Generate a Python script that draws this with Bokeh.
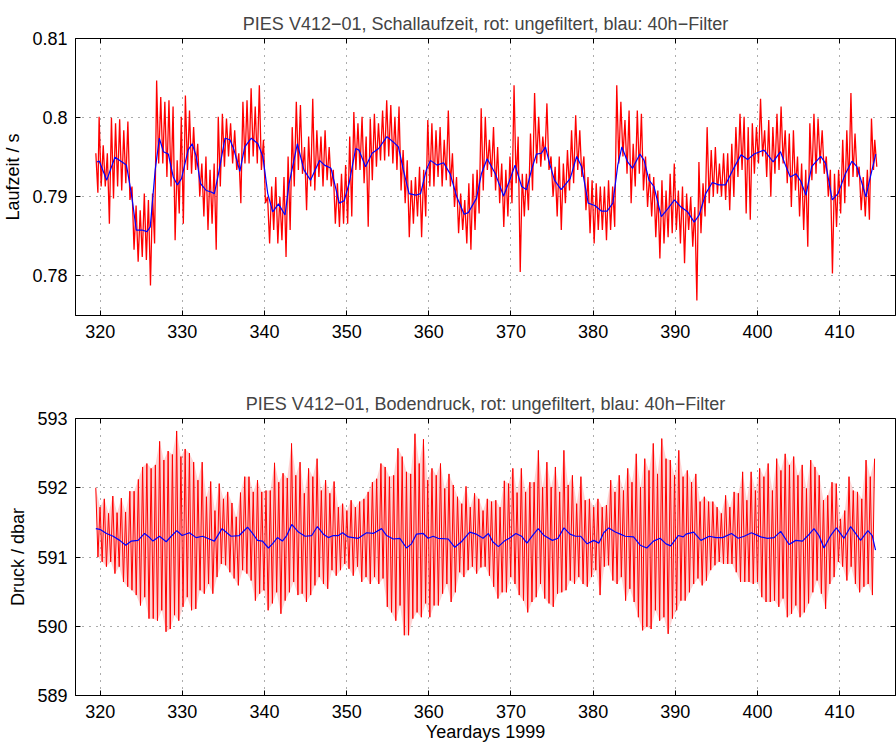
import numpy as np
from bokeh.plotting import figure
from bokeh.layouts import column
from bokeh.models import FixedTicker, CustomJSTickFormatter, LinearAxis
from bokeh.embed import file_html
from bokeh.resources import INLINE

FONT = "Liberation Sans"

# ---------------- top panel: travel time (Laufzeit) ----------------
# unfiltered (red): upper / lower spike extremes read per half day, starting 320.0
top_first_day, top_last_day = 319.6, 414.4
top_first_hi, top_first_lo = 0.7955, 0.7905
top_last_hi, top_last_lo = 0.7972, 0.7938
top_hi = [
    0.8001, 0.7965, 0.7955, 0.8000, 0.7993, 0.7998, 0.7984, 0.7995, 0.7913, 0.7889,
    0.7883, 0.7904, 0.7896, 0.7904, 0.8047, 0.8026, 0.8020, 0.8022, 0.8014, 0.7946,
    0.8001, 0.8028, 0.8009, 0.7988, 0.7967, 0.7942, 0.7951, 0.7934, 0.7942, 0.8001,
    0.8005, 0.7999, 0.7993, 0.7984, 0.7955, 0.8020, 0.8022, 0.8037, 0.8014, 0.8041,
    0.7972, 0.7900, 0.7913, 0.7925, 0.7900, 0.7925, 0.7951, 0.7988, 0.8020, 0.8016,
    0.7963, 0.7976, 0.8024, 0.7984, 0.7976, 0.7984, 0.7963, 0.7934, 0.7917, 0.7929,
    0.7940, 0.7976, 0.8007, 0.7993, 0.8001, 0.7976, 0.7999, 0.8005, 0.7993, 0.8009,
    0.8022, 0.8016, 0.8001, 0.8014, 0.7959, 0.7946, 0.7921, 0.7925, 0.7938, 0.7934,
    0.7997, 0.7993, 0.7984, 0.7988, 0.7972, 0.8009, 0.7955, 0.7925, 0.7904, 0.7896,
    0.7917, 0.7929, 0.7934, 0.8012, 0.8001, 0.7972, 0.7988, 0.7963, 0.7942, 0.7934,
    0.7951, 0.8041, 0.7976, 0.7929, 0.7929, 0.7980, 0.8031, 0.8001, 0.7976, 0.8018,
    0.7951, 0.7938, 0.7951, 0.7942, 0.7959, 0.7984, 0.8003, 0.7984, 0.7951, 0.7925,
    0.7921, 0.7917, 0.7913, 0.7913, 0.7921, 0.7913, 0.8041, 0.8020, 0.7997, 0.8009,
    0.7967, 0.8009, 0.8005, 0.7951, 0.7929, 0.7925, 0.7908, 0.7921, 0.7908, 0.7929,
    0.7942, 0.7908, 0.7913, 0.7904, 0.7900, 0.7887, 0.7944, 0.7917, 0.7988, 0.7959,
    0.7963, 0.7942, 0.7955, 0.7955, 0.7967, 0.7988, 0.8005, 0.8001, 0.7988, 0.7993,
    0.7988, 0.8024, 0.7984, 0.7997, 0.7988, 0.8005, 0.8014, 0.7984, 0.7980, 0.7984,
    0.7951, 0.7942, 0.7934, 0.7993, 0.8005, 0.7999, 0.7984, 0.7951, 0.7934, 0.7929,
    0.7934, 0.7972, 0.7984, 0.8031, 0.7980, 0.7938, 0.7925, 0.7934, 0.7999,
]
top_lo = [
    0.7913, 0.7913, 0.7866, 0.7898, 0.7913, 0.7908, 0.7917, 0.7896, 0.7833, 0.7818,
    0.7824, 0.7820, 0.7788, 0.7841, 0.7942, 0.7942, 0.7925, 0.7913, 0.7845, 0.7879,
    0.7866, 0.7934, 0.7929, 0.7934, 0.7900, 0.7875, 0.7858, 0.7866, 0.7833, 0.7913,
    0.7938, 0.7951, 0.7942, 0.7934, 0.7892, 0.7942, 0.7942, 0.7951, 0.7942, 0.7934,
    0.7892, 0.7841, 0.7858, 0.7841, 0.7845, 0.7824, 0.7858, 0.7913, 0.7934, 0.7929,
    0.7883, 0.7913, 0.7908, 0.7925, 0.7913, 0.7921, 0.7913, 0.7866, 0.7862, 0.7866,
    0.7866, 0.7875, 0.7934, 0.7934, 0.7917, 0.7862, 0.7921, 0.7938, 0.7946, 0.7946,
    0.7951, 0.7942, 0.7934, 0.7908, 0.7892, 0.7849, 0.7866, 0.7875, 0.7849, 0.7875,
    0.7913, 0.7913, 0.7925, 0.7913, 0.7921, 0.7913, 0.7887, 0.7854, 0.7858, 0.7841,
    0.7833, 0.7858, 0.7879, 0.7908, 0.7934, 0.7925, 0.7908, 0.7892, 0.7862, 0.7875,
    0.7892, 0.7917, 0.7805, 0.7875, 0.7883, 0.7908, 0.7942, 0.7938, 0.7946, 0.7934,
    0.7900, 0.7875, 0.7858, 0.7892, 0.7908, 0.7917, 0.7934, 0.7925, 0.7883, 0.7854,
    0.7841, 0.7858, 0.7858, 0.7845, 0.7858, 0.7862, 0.7942, 0.7951, 0.7929, 0.7892,
    0.7913, 0.7929, 0.7908, 0.7887, 0.7875, 0.7849, 0.7822, 0.7841, 0.7849, 0.7854,
    0.7858, 0.7841, 0.7816, 0.7858, 0.7837, 0.7769, 0.7854, 0.7875, 0.7892, 0.7900,
    0.7904, 0.7900, 0.7896, 0.7883, 0.7900, 0.7925, 0.7934, 0.7879, 0.7871, 0.7929,
    0.7942, 0.7951, 0.7925, 0.7900, 0.7929, 0.7934, 0.7942, 0.7917, 0.7887, 0.7908,
    0.7875, 0.7858, 0.7837, 0.7921, 0.7929, 0.7942, 0.7929, 0.7900, 0.7803, 0.7862,
    0.7879, 0.7892, 0.7913, 0.7925, 0.7925, 0.7883, 0.7875, 0.7871, 0.7934,
]
# 40h filtered (blue)
top_blue_day = [
    319.6, 319.9, 320.8, 321.8, 322.8, 323.2, 323.8, 324.4, 325.1, 325.7, 326.1, 326.7,
    327.2, 327.7, 328.3, 328.9, 329.4, 329.9, 330.7, 331.2, 331.7, 332.2, 332.9, 333.5,
    333.9, 334.4, 335.2, 335.8, 336.3, 337.0, 337.6, 338.4, 339.2, 339.8, 340.4, 341.0,
    341.7, 342.5, 343.0, 344.0, 344.8, 345.6, 346.7, 347.3, 348.1, 349.1, 349.7, 350.3,
    351.1, 351.5, 352.3, 353.1, 353.9, 354.9, 355.7, 356.3, 356.9, 357.6, 358.4, 359.0,
    359.7, 360.2, 361.0, 361.8, 362.6, 363.4, 364.3, 364.8, 365.8, 366.4, 367.1, 368.1,
    369.1, 369.7, 370.5, 371.3, 371.9, 372.5, 373.1, 373.7, 374.2, 374.7, 375.3, 376.1,
    377.2, 378.0, 378.6, 379.4, 380.2, 381.0, 381.7, 382.4, 383.0, 383.5, 384.2, 384.8,
    385.7, 386.2, 386.8, 387.4, 388.3, 389.1, 389.9, 390.7, 391.5, 392.3, 392.9, 393.7,
    394.5, 395.3, 396.1, 397.0, 398.0, 398.8, 399.6, 400.8, 401.4, 401.9, 402.8, 403.4,
    404.0, 404.7, 405.3, 405.9, 406.6, 407.7, 408.3, 409.1, 409.8, 410.7, 411.5, 412.1,
    412.6, 413.2, 413.6, 414.4,
]
top_blue_val = [
    0.7944, 0.7945, 0.7921, 0.7950, 0.7943, 0.7940, 0.7904, 0.7858, 0.7858, 0.7856, 0.7862, 0.7934,
    0.7974, 0.7957, 0.7954, 0.7925, 0.7915, 0.7923, 0.7959, 0.7967, 0.7951, 0.7917, 0.7908, 0.7906,
    0.7904, 0.7929, 0.7974, 0.7972, 0.7959, 0.7932, 0.7963, 0.7974, 0.7967, 0.7951, 0.7904, 0.7881,
    0.7891, 0.7877, 0.7917, 0.7967, 0.7934, 0.7921, 0.7946, 0.7940, 0.7936, 0.7892, 0.7895, 0.7917,
    0.7961, 0.7959, 0.7938, 0.7955, 0.7961, 0.7976, 0.7969, 0.7963, 0.7934, 0.7904, 0.7902, 0.7904,
    0.7934, 0.7946, 0.7940, 0.7943, 0.7929, 0.7900, 0.7878, 0.7880, 0.7898, 0.7929, 0.7948, 0.7929,
    0.7901, 0.7917, 0.7940, 0.7913, 0.7909, 0.7934, 0.7954, 0.7955, 0.7963, 0.7942, 0.7921, 0.7909,
    0.7923, 0.7951, 0.7938, 0.7892, 0.7889, 0.7882, 0.7882, 0.7892, 0.7940, 0.7963, 0.7944, 0.7936,
    0.7954, 0.7946, 0.7921, 0.7913, 0.7875, 0.7885, 0.7896, 0.7887, 0.7881, 0.7868, 0.7877, 0.7904,
    0.7918, 0.7915, 0.7915, 0.7934, 0.7953, 0.7947, 0.7954, 0.7959, 0.7951, 0.7944, 0.7957, 0.7940,
    0.7925, 0.7929, 0.7919, 0.7902, 0.7938, 0.7951, 0.7942, 0.7896, 0.7904, 0.7929, 0.7945, 0.7938,
    0.7921, 0.7900, 0.7919, 0.7954,
]

# ---------------- bottom panel: bottom pressure (Bodendruck) ----------------
# unfiltered (red): tidal highs and lows, one per semidiurnal cycle
tide_first_day, tide_last_day = 319.47, 414.25
tide_high = [
    592.00, 591.72, 591.84, 591.63, 591.88, 591.64, 591.85, 591.65, 591.95, 591.95,
    592.12, 592.30, 592.35, 592.28, 592.33, 592.67, 592.40, 592.53, 592.48, 592.82,
    592.45, 592.56, 592.50, 592.37, 592.11, 592.37, 591.87, 592.09, 591.67, 592.06,
    591.84, 591.94, 591.78, 591.58, 591.93, 592.16, 592.16, 591.94, 592.11, 591.94,
    591.96, 591.96, 592.36, 592.08, 592.21, 592.14,
    592.64, 592.18, 592.37, 591.92, 592.28, 592.16, 592.42, 591.96, 592.11, 591.92,
    592.09, 591.72, 591.77, 591.67, 591.82, 591.72, 591.80, 591.84, 591.94, 592.08,
    592.13, 592.35, 592.30, 592.16, 592.18, 592.57, 592.45, 592.23, 592.20, 592.78,
    592.35, 592.70, 592.11, 592.28, 592.18, 592.35, 591.99, 592.20, 592.04, 591.87,
    591.77, 592.02, 591.72, 591.92, 591.84, 591.67,
    591.84, 591.80, 591.82, 591.72, 592.10, 592.06, 592.28, 591.93, 592.28, 591.94,
    592.08, 592.08, 592.54, 592.01, 592.37, 592.01, 592.30, 591.94, 592.54, 592.04,
    592.18, 591.77, 592.16, 591.82, 591.84, 591.72, 591.84, 591.72, 591.75, 592.11,
    591.94, 592.18, 591.96, 592.28, 592.08, 592.49, 592.01, 592.42, 592.25, 592.64,
    592.20, 592.71, 592.42, 592.40, 592.18, 592.54, 592.16,
    592.25, 592.08, 592.20, 591.80, 591.87, 591.80, 591.80, 591.72, 591.63, 591.89,
    591.72, 591.94, 591.92, 592.23, 591.82, 592.23, 591.96, 592.28, 592.16, 592.35,
    591.96, 592.42, 592.25, 592.49, 592.33, 592.45, 592.18, 592.33, 591.99, 592.40,
    592.30, 592.18, 591.82, 591.89, 592.08, 592.06, 591.55, 591.67, 592.16, 591.96,
    591.94, 591.84, 592.40, 592.16, 592.42,
]
tide_low = [
    591.00, 590.93, 590.86, 590.93, 590.76, 590.86, 590.64, 590.57, 590.52, 590.45,
    590.30, 590.42, 590.11, 590.11, 590.08, 590.23, 589.92, 589.96, 590.16, 590.08,
    590.28, 590.42, 590.23, 590.25, 590.52, 590.47, 590.61, 590.47, 590.71, 590.90,
    590.88, 590.78, 590.69, 590.59, 590.81, 590.76, 590.66, 590.37, 590.47, 590.52,
    590.23, 590.33, 590.49, 590.18, 590.37,
    590.49, 590.64, 590.45, 590.47, 590.35, 590.45, 590.59, 590.71, 590.61, 590.54,
    590.81, 590.73, 590.81, 590.90, 590.83, 590.73, 590.86, 590.64, 590.71, 590.61,
    590.71, 590.61, 590.69, 590.28, 590.20, 590.08, 590.30, 589.87, 589.87, 590.11,
    590.20, 590.13, 590.33, 590.13, 590.30, 590.30, 590.47, 590.61, 590.35, 590.49,
    590.78, 590.71, 590.81, 590.86, 590.76, 590.85,
    590.86, 590.73, 590.57, 590.40, 590.49, 590.49, 590.71, 590.61, 590.45, 590.37,
    590.20, 590.35, 590.42, 590.61, 590.40, 590.33, 590.28, 590.47, 590.49, 590.52,
    590.66, 590.61, 590.71, 590.61, 590.57, 590.71, 590.81, 590.45, 590.86, 590.88,
    590.66, 590.61, 590.71, 590.37, 590.54, 590.35, 590.13, 589.94, 589.99, 589.96,
    590.23, 590.08, 590.13, 589.89, 590.11, 590.23, 590.37,
    590.37, 590.49, 590.61, 590.69, 590.59, 590.66, 590.81, 590.88, 590.93, 590.90,
    590.90, 590.90, 590.78, 590.64, 590.64, 590.64, 590.61, 590.64, 590.42, 590.35,
    590.35, 590.37, 590.28, 590.40, 590.13, 590.18, 590.30, 590.13, 590.20, 590.33,
    590.49, 590.66, 590.47, 590.25, 590.61, 590.71, 590.93, 590.86, 590.66, 590.86,
    590.61, 590.49, 590.57, 590.61, 590.45,
]
# 40h filtered (blue)
bot_blue_day = [
    319.47, 319.96, 320.77, 321.58, 322.38, 323.11, 323.80, 324.61, 325.41, 325.94, 326.42,
    327.23, 328.04, 328.65, 329.33, 329.98, 330.87, 331.68, 332.48, 333.29, 333.90, 334.83,
    335.31, 335.92, 336.93, 337.94, 338.55, 339.15, 339.76, 340.48, 340.97, 341.58, 342.18,
    342.71, 343.32, 344.13, 344.94, 345.75, 346.44, 347.17, 347.77, 348.38, 348.99, 349.51,
    350.20, 351.42, 352.43, 353.24, 354.25, 354.86, 355.67, 356.48, 357.29, 357.89, 358.50,
    359.31, 359.92, 360.53, 361.13, 362.35, 363.16, 363.97, 364.98, 365.79, 366.60,
    367.26, 367.78, 368.47, 369.19, 369.80, 370.60, 371.29, 371.94, 372.62, 373.31, 374.03,
    375.04, 375.73, 376.45, 377.18, 377.86, 378.47, 379.27, 380.08, 380.69, 381.29, 381.90,
    382.70, 383.31, 383.91, 384.92, 385.73, 386.53, 387.34, 388.15, 388.87, 389.44, 390.36,
    390.97, 391.30, 392.23, 393.12, 394.13, 394.94, 395.75, 396.84, 397.65, 398.38, 399.27,
    400.40, 401.21, 402.02, 402.83, 403.85, 404.66, 405.47, 406.15, 406.88, 407.49, 408.10,
    408.91, 409.60, 410.53, 411.34, 411.94, 412.55, 413.44, 413.97, 414.37,
]
bot_blue_val = [
    591.41, 591.40, 591.34, 591.30, 591.24, 591.17, 591.23, 591.24, 591.34, 591.29, 591.23,
    591.30, 591.22, 591.30, 591.38, 591.31, 591.35, 591.28, 591.30, 591.26, 591.23, 591.41,
    591.36, 591.30, 591.31, 591.43, 591.34, 591.24, 591.23, 591.13, 591.19, 591.28, 591.23,
    591.31, 591.47, 591.36, 591.30, 591.31, 591.44, 591.33, 591.28, 591.31, 591.31, 591.35,
    591.29, 591.27, 591.35, 591.34, 591.41, 591.31, 591.26, 591.27, 591.13, 591.19, 591.33,
    591.34, 591.27, 591.30, 591.27, 591.26, 591.14, 591.22, 591.36, 591.33, 591.27,
    591.34, 591.22, 591.15, 591.23, 591.27, 591.34, 591.30, 591.20, 591.31, 591.41, 591.31,
    591.24, 591.27, 591.42, 591.33, 591.30, 591.30, 591.19, 591.24, 591.20, 591.35, 591.42,
    591.36, 591.33, 591.30, 591.29, 591.17, 591.13, 591.23, 591.27, 591.19, 591.16, 591.31,
    591.29, 591.33, 591.36, 591.24, 591.30, 591.28, 591.28, 591.34, 591.27, 591.30, 591.35,
    591.29, 591.27, 591.28, 591.37, 591.18, 591.24, 591.23, 591.31, 591.41, 591.31, 591.13,
    591.31, 591.42, 591.27, 591.44, 591.34, 591.24, 591.38, 591.31, 591.10,
]

x_ticks = [320, 330, 340, 350, 360, 370, 380, 390, 400, 410]
top_y_ticks = [0.78, 0.79, 0.80, 0.81]
bot_y_ticks = [589, 590, 591, 592, 593]

# ---------------- build zigzag sequences from the read extremes ----------------
hi_all = [top_first_hi] + top_hi + [top_last_hi]
lo_all = [top_first_lo] + top_lo + [top_last_lo]
day_all = [top_first_day] + list(320.0 + 0.5 * np.arange(len(top_hi))) + [top_last_day]
top_red_x, top_red_y = [], []
for d, h, l in zip(day_all, hi_all, lo_all):
    top_red_x += [d - 0.125, d + 0.125]
    top_red_y += [h, l]

peak_days = list(np.linspace(tide_first_day, tide_last_day, len(tide_high)))
half = (peak_days[1] - peak_days[0]) / 2.0
trough_days = [peak_days[i] + half for i in range(len(tide_low))]
bot_red_x, bot_red_y = [], []
for i, h in enumerate(tide_high):
    bot_red_x.append(peak_days[i])
    bot_red_y.append(h)
    if i < len(tide_low):
        bot_red_x.append(trough_days[i])
        bot_red_y.append(tide_low[i])

fmt = CustomJSTickFormatter(code="return Number(tick.toFixed(3)).toString();")


def style(p, yticks, ylabel, xlabel=None):
    p.title.text_font = FONT
    p.title.text_font_size = "18px"
    p.title.text_font_style = "normal"
    p.title.align = "center"
    p.title.offset = 0
    p.title.standoff = 10
    p.outline_line_color = "black"
    p.outline_line_width = 1
    p.outline_line_alpha = 1
    p.background_fill_color = "white"
    p.border_fill_color = "white"
    for ax in (p.xaxis[0], p.yaxis[0]):
        ax.major_tick_in = 5
        ax.major_tick_out = 0
        ax.minor_tick_line_color = None
        ax.axis_line_color = "black"
        ax.major_tick_line_color = "black"
        ax.major_label_text_font = FONT
        ax.major_label_text_font_size = "18px"
        ax.major_label_text_color = "black"
        ax.axis_label_text_font = FONT
        ax.axis_label_text_font_size = "18px"
        ax.axis_label_text_font_style = "normal"
        ax.axis_label_text_color = "black"
        ax.formatter = fmt
    p.xaxis[0].ticker = FixedTicker(ticks=x_ticks)
    p.yaxis[0].ticker = FixedTicker(ticks=yticks)
    p.xaxis[0].major_label_standoff = 9
    p.yaxis[0].major_label_standoff = 8
    p.yaxis[0].axis_label = ylabel
    p.yaxis[0].axis_label_standoff = 6
    if xlabel:
        p.xaxis[0].axis_label = xlabel
        p.xaxis[0].axis_label_standoff = 1
    # box ticks on top and right (labels not painted)
    for loc, tick in (("above", x_ticks), ("right", yticks)):
        ax = LinearAxis(ticker=FixedTicker(ticks=tick))
        ax.major_tick_in = 5
        ax.major_tick_out = 0
        ax.minor_tick_line_color = None
        ax.axis_line_color = None
        ax.major_label_text_font_size = "1px"
        ax.major_label_text_color = None
        ax.major_label_standoff = 0
        p.add_layout(ax, loc)
    for g, tick in ((p.xgrid[0], x_ticks), (p.ygrid[0], yticks)):
        g.ticker = FixedTicker(ticks=tick)
        g.grid_line_color = "#222222"
        g.grid_line_alpha = 0.75
        g.grid_line_dash = "1 6"
        g.grid_line_width = 1


p1 = figure(width=896, height=380, x_range=(317, 416.8), y_range=(0.775, 0.81),
            output_backend="svg", toolbar_location=None,
            title="PIES V412\u221201, Schallaufzeit, rot: ungefiltert, blau: 40h\u2212Filter",
            min_border_left=74, min_border_right=1, min_border_top=38, min_border_bottom=65)
p1.line(top_red_x, top_red_y, line_color="#ff0000", line_width=1.3)
p1.line(top_blue_day, top_blue_val, line_color="#0000ff", line_width=1.2)
style(p1, top_y_ticks, "Laufzeit / s")

p2 = figure(width=896, height=364, x_range=(317, 416.8), y_range=(589, 593),
            output_backend="svg", toolbar_location=None,
            title="PIES V412\u221201, Bodendruck, rot: ungefiltert, blau: 40h\u2212Filter",
            min_border_left=74, min_border_right=1, min_border_top=38, min_border_bottom=49)
p2.patch(peak_days + trough_days[::-1], tide_high + tide_low[::-1], fill_color="#ff8080",
         fill_alpha=0.35, line_color=None)
p2.line(bot_red_x, bot_red_y, line_color="#ff0000", line_width=1)
p2.line(bot_blue_day, bot_blue_val, line_color="#0000ff", line_width=1.2)
style(p2, bot_y_ticks, "Druck / dbar", "Yeardays 1999")

layout = column(p1, p2)
open("out.html", "w").write(file_html(layout, INLINE))
